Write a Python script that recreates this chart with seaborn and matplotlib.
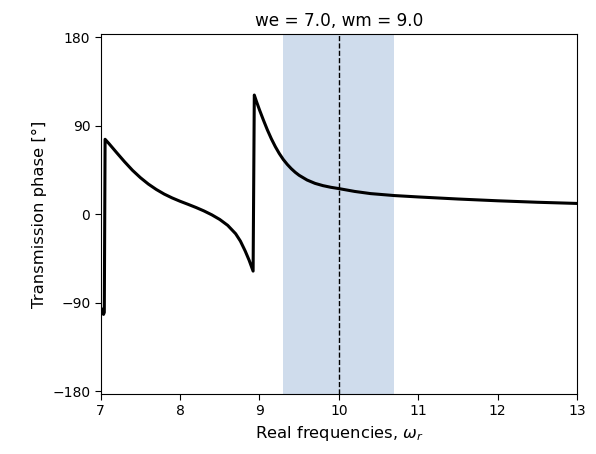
import matplotlib
matplotlib.use("Agg")
import matplotlib.pyplot as plt
import seaborn as sns
import pandas as pd

# Transmission phase (degrees) sampled along the real frequency axis
freq = [7.00, 7.02, 7.035, 7.045, 7.055, 7.10, 7.20, 7.30, 7.40, 7.50, 7.60,
        7.70, 7.80, 7.90, 8.00, 8.10, 8.20, 8.30, 8.40, 8.50, 8.60, 8.70,
        8.76, 8.82, 8.87, 8.92, 8.935, 8.96, 9.00, 9.05, 9.10, 9.15, 9.20,
        9.25, 9.30, 9.35, 9.40, 9.45, 9.50, 9.60, 9.70, 9.80, 9.90, 10.00,
        10.20, 10.40, 10.70, 11.00, 11.50, 12.00, 12.50, 13.00]
phase = [-95, -99, -102, -100, 76, 72, 62.5, 53.2, 44.5, 37, 30.5,
         25, 20.3, 16.4, 13, 9.9, 6.7, 3.2, -0.8, -5.5, -11.5, -20,
         -27.5, -37.5, -47, -58, 121, 115, 106, 95.5, 85.5, 76.5, 68.5,
         61.5, 55.5, 50.5, 46.2, 42.5, 39.4, 34.6, 31.2, 28.9, 27.2, 25.9,
         23.0, 20.8, 18.8, 17.4, 15.3, 13.5, 12.0, 10.8]

title = "we = 7.0, wm = 9.0"
yticks = [-180, -90, 0, 90, 180]
xticks = [7, 8, 9, 10, 11, 12, 13]
band = (9.3, 10.7)
center = 10.0

sns.set_style("ticks")
plt.rcParams["font.family"] = ["DejaVu Sans"]
for key in ["text.color", "axes.labelcolor", "xtick.color", "ytick.color", "axes.edgecolor"]:
    plt.rcParams[key] = "black"

df = pd.DataFrame({"freq": freq, "phase": phase})

fig = plt.figure(figsize=(5.96, 4.54), dpi=100)
ax = fig.add_axes([0.169, 0.132, 0.799, 0.793])

ax.axvspan(band[0], band[1], color="#cfdcec", lw=0, zorder=0)
ax.axvline(center, color="black", ls="--", lw=1.0, zorder=1)
sns.lineplot(data=df, x="freq", y="phase", color="black", lw=2.2,
             sort=False, ax=ax, zorder=2)

ax.set_xlim(7, 13)
ax.set_ylim(-183, 183)
ax.set_xticks(xticks)
ax.set_yticks(yticks)
ax.tick_params(labelsize=10, length=4, width=0.8, colors="black")
for s in ax.spines.values():
    s.set_linewidth(0.8)
    s.set_color("black")
ax.set_title(title, fontsize=12.2)
ax.set_xlabel(r"Real frequencies, $\omega_r$", fontsize=11.8)
ax.set_ylabel("Transmission phase [°]", fontsize=11.8)

fig.savefig("out.png", dpi=100)
